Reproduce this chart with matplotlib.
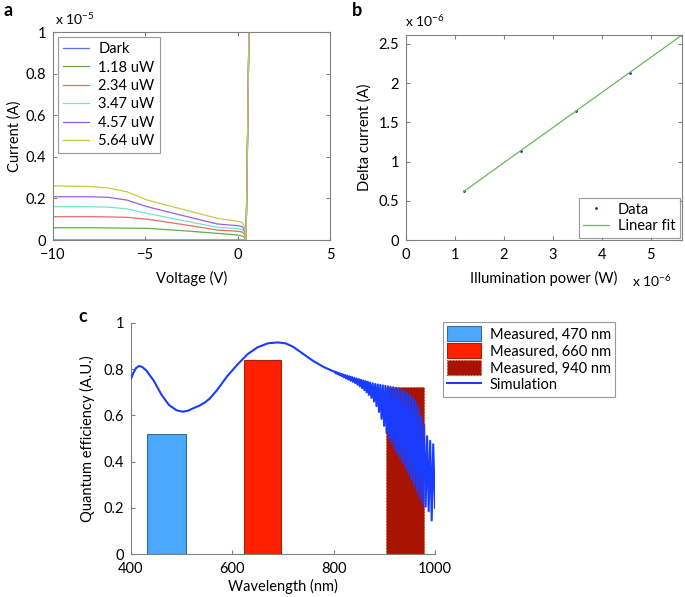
import matplotlib
matplotlib.use("Agg")
import matplotlib.pyplot as plt
from matplotlib.patches import Patch
from matplotlib.lines import Line2D

plt.rcParams['font.family'] = ['Lato', 'DejaVu Sans']
plt.rcParams['mathtext.fontset'] = 'custom'
plt.rcParams['mathtext.rm'] = 'Lato'
plt.rcParams['mathtext.it'] = 'Lato'
plt.rcParams['font.size'] = 9.5

GRAY = '#808080'

# ---------------- Panel a data (current in units of 1e-5 A) ----------------
iv_labels = ['Dark', '1.18 uW', '2.34 uW', '3.47 uW', '4.57 uW', '5.64 uW']
iv_colors = ['#5a6ee6', '#5fae4a', '#e86a6a', '#6fe6c8', '#9a5ee6', '#c8c850']
iv_voltage = [-10, -8, -7, -6, -4.9, -3, -1.1, 0.0, 0.26, 0.38, 0.45, 0.5, 0.61, 0.66]
iv_current = [
    [0, 0, 0, 0, 0, 0, 0, 0, 0, 0, 0, 0.25, 1.0, 1.35],
    [0.059, 0.059, 0.058, 0.057, 0.056, 0.045, 0.032, 0.024, 0.019, 0.012, 0.0, 0.25, 1.0, 1.35],
    [0.112, 0.112, 0.111, 0.109, 0.100, 0.075, 0.048, 0.042, 0.038, 0.025, 0.0, 0.25, 1.0, 1.35],
    [0.160, 0.160, 0.158, 0.150, 0.128, 0.094, 0.061, 0.055, 0.051, 0.035, 0.0, 0.25, 1.0, 1.35],
    [0.208, 0.208, 0.205, 0.192, 0.160, 0.118, 0.077, 0.069, 0.064, 0.045, 0.0, 0.25, 1.0, 1.35],
    [0.260, 0.257, 0.250, 0.232, 0.192, 0.148, 0.104, 0.090, 0.083, 0.060, 0.0, 0.25, 1.0, 1.35],
]

# ---------------- Panel b data (units of 1e-6) ----------------
power = [1.18, 2.34, 3.47, 4.57, 5.64]
delta_current = [0.62, 1.14, 1.64, 2.13, 2.61]
fit_x = [1.18, 5.64]
fit_y = [0.618, 2.613]

# ---------------- Panel c data ----------------
bar_centers = [470, 660, 940]
bar_width = [76, 74, 75]
bar_heights = [0.52, 0.84, 0.725]
bar_colors = ['#4aa8ff', '#ff2000', '#a81400']
bar_labels = ['Measured, 470 nm', 'Measured, 660 nm', 'Measured, 940 nm']

sim_smooth_nm = [400, 405, 410, 416, 422, 430, 445, 460, 475, 490, 502, 512, 525, 535, 545,
                 555, 570, 590, 610, 630, 650, 670, 690, 705, 720, 740, 760, 780, 800]
sim_smooth_qe = [0.76, 0.785, 0.805, 0.814, 0.81, 0.795, 0.75, 0.69, 0.645, 0.622, 0.616, 0.62,
                 0.633, 0.642, 0.655, 0.672, 0.71, 0.77, 0.82, 0.865, 0.895, 0.912, 0.916, 0.912,
                 0.897, 0.866, 0.835, 0.81, 0.79]
fringe_max_nm = [802, 806, 810, 814, 818, 822.5, 827, 831.5, 836, 840.5, 845, 849.5, 854, 858.5,
                 863, 867.5, 872, 877, 882, 887, 892, 897, 902, 907, 912, 917.5, 923, 928.5, 934,
                 939.5, 945, 950.5, 956, 961.5, 967, 972.5, 978.5, 984.5, 990.5, 996.5]
fringe_max_qe = [0.790, 0.787, 0.784, 0.781, 0.778, 0.775, 0.772, 0.769, 0.766, 0.763, 0.760,
                 0.757, 0.754, 0.751, 0.748, 0.745, 0.742, 0.739, 0.736, 0.734, 0.732, 0.730,
                 0.728, 0.726, 0.724, 0.722, 0.719, 0.715, 0.710, 0.704, 0.697, 0.688, 0.677,
                 0.662, 0.640, 0.600, 0.560, 0.510, 0.490, 0.475]
fringe_min_nm = [804, 808, 812, 816, 820, 824.5, 829, 833.5, 838, 842.5, 847, 851.5, 856, 860.5,
                 865, 869.5, 874.5, 879.5, 884.5, 889.5, 894.5, 899.5, 904.5, 909.5, 914.5, 920,
                 925.5, 931, 936.5, 942, 947.5, 953, 958.5, 964, 969.5, 975.5, 981.5, 987.5,
                 993.5, 1000]
fringe_min_qe = [0.782, 0.778, 0.774, 0.770, 0.765, 0.760, 0.755, 0.750, 0.745, 0.740, 0.733,
                 0.726, 0.718, 0.710, 0.700, 0.689, 0.676, 0.660, 0.640, 0.615, 0.585, 0.555,
                 0.525, 0.500, 0.478, 0.456, 0.436, 0.415, 0.393, 0.370, 0.347, 0.323, 0.298,
                 0.272, 0.245, 0.215, 0.205, 0.185, 0.145, 0.200]

fig = plt.figure(figsize=(6.85, 5.97), dpi=100)


def style_axes(ax, box=True):
    for s in ax.spines.values():
        s.set_color(GRAY)
        s.set_linewidth(0.8)
    if not box:
        ax.spines['top'].set_visible(False)
        ax.spines['right'].set_visible(False)
    ax.tick_params(direction='in', color=GRAY, length=3, width=0.8,
                   top=box, right=box, labelsize=10.5)
    ax.tick_params(axis='x', pad=6)
    ax.tick_params(axis='y', pad=5)


# ---------- Panel a ----------
axa = fig.add_axes([53/685, 1-240/597, 277/685, 208/597])
for lab, col, cur in zip(iv_labels, iv_colors, iv_current):
    axa.plot(iv_voltage, cur, color=col, lw=0.9, label=lab)
axa.set_xlim(-10, 5)
axa.set_ylim(0, 1)
axa.set_xticks([-10, -5, 0, 5])
axa.set_xticklabels(['\u221210', '\u22125', '0', '5'])
axa.set_yticks([0, 0.2, 0.4, 0.6, 0.8, 1])
axa.set_yticklabels(['0', '0.2', '0.4', '0.6', '0.8', '1'])
style_axes(axa)
axa.set_xlabel('Voltage (V)', fontsize=10.5, labelpad=6)
axa.set_ylabel('Current (A)', fontsize=10.5, labelpad=3)
leg = axa.legend(loc='upper left', fontsize=10.5, frameon=True, fancybox=False,
                 handlelength=1.8, borderaxespad=0.35, labelspacing=0.3, borderpad=0.35,
                 handletextpad=0.6)
leg.get_frame().set_edgecolor(GRAY)
leg.get_frame().set_linewidth(0.8)
fig.text(55/685, 1-25/597, 'x 10$^{\u22125}$', fontsize=10, va='baseline')
fig.text(4/685, 1-16/597, 'a', fontsize=13, fontweight='bold', va='baseline')

# ---------- Panel b ----------
axb = fig.add_axes([406/685, 1-240/597, 276/685, 205/597])
axb.plot(power, delta_current, linestyle='none', marker='.', ms=2, color='#2030a0', label='Data')
axb.plot(fit_x, fit_y, color='#6ab85a', lw=0.9, label='Linear fit')
axb.set_xlim(0, 5.64)
axb.set_ylim(0, 2.613)
axb.set_xticks([0, 1, 2, 3, 4, 5])
axb.set_yticks([0, 0.5, 1, 1.5, 2, 2.5])
axb.set_yticklabels(['0', '0.5', '1', '1.5', '2', '2.5'])
style_axes(axb)
axb.set_xlabel('Illumination power (W)', fontsize=10.5, labelpad=6)
axb.set_ylabel('Delta current (A)', fontsize=10.5, labelpad=5)
legb = axb.legend(loc='lower right', fontsize=10.5, frameon=True, fancybox=False,
                  handlelength=1.8, borderaxespad=0.15, labelspacing=0.2, borderpad=0.3,
                  handletextpad=0.6)
legb.get_frame().set_edgecolor(GRAY)
legb.get_frame().set_linewidth(0.8)
fig.text(405/685, 1-27/597, 'x 10$^{\u22126}$', fontsize=10, va='baseline')
fig.text(632/685, 1-287/597, 'x 10$^{\u22126}$', fontsize=10, va='baseline')
fig.text(352/685, 1-16/597, 'b', fontsize=13, fontweight='bold', va='baseline')

# ---------- Panel c ----------
axc = fig.add_axes([131/685, 1-554/597, 304/685, 231/597])
edgecols = ['#3a6a9a', '#a02010', '#c04020']
styles = ['-', '-', ':']
for c, w, h, col, ec, ls, lab in zip(bar_centers, bar_width, bar_heights, bar_colors,
                                     edgecols, styles, bar_labels):
    axc.bar(c, h, width=w, color=col, edgecolor=ec, linestyle=ls, linewidth=0.8, label=lab,
            zorder=1)
sim_x = list(sim_smooth_nm)
sim_y = list(sim_smooth_qe)
for xm, ym, xn, yn in zip(fringe_max_nm, fringe_max_qe, fringe_min_nm, fringe_min_qe):
    sim_x += [xm, xn]
    sim_y += [ym, yn]
axc.plot(sim_x, sim_y, color='#1a3cff', lw=1.5, label='Simulation', zorder=3)
axc.set_xlim(400, 1000)
axc.set_ylim(0, 1)
axc.set_xticks([400, 600, 800, 1000])
axc.set_yticks([0, 0.2, 0.4, 0.6, 0.8, 1])
axc.set_yticklabels(['0', '0.2', '0.4', '0.6', '0.8', '1'])
style_axes(axc, box=False)
axc.set_xlabel('Wavelength (nm)', fontsize=10.5, labelpad=2)
axc.set_ylabel('Quantum efficiency (A.U.)', fontsize=10.5, labelpad=6)
handles = [Patch(facecolor=bar_colors[0], edgecolor=edgecols[0], lw=0.8),
           Patch(facecolor=bar_colors[1], edgecolor=edgecols[1], lw=0.8),
           Patch(facecolor=bar_colors[2], edgecolor=edgecols[2], lw=0.8, linestyle=':'),
           Line2D([], [], color='#1a3cff', lw=1.5)]
legc = axc.legend(handles, bar_labels + ['Simulation'], loc='upper left',
                  bbox_to_anchor=(443/685, 1-322/597), bbox_transform=fig.transFigure,
                  fontsize=10.5, frameon=True, fancybox=False, handlelength=2.3,
                  handleheight=1.2, borderaxespad=0, labelspacing=0.1, borderpad=0.3,
                  handletextpad=0.6)
legc.get_frame().set_edgecolor(GRAY)
legc.get_frame().set_linewidth(0.8)
fig.text(78/685, 1-322/597, 'c', fontsize=13, fontweight='bold', va='baseline')

fig.savefig('out.png', dpi=100)
